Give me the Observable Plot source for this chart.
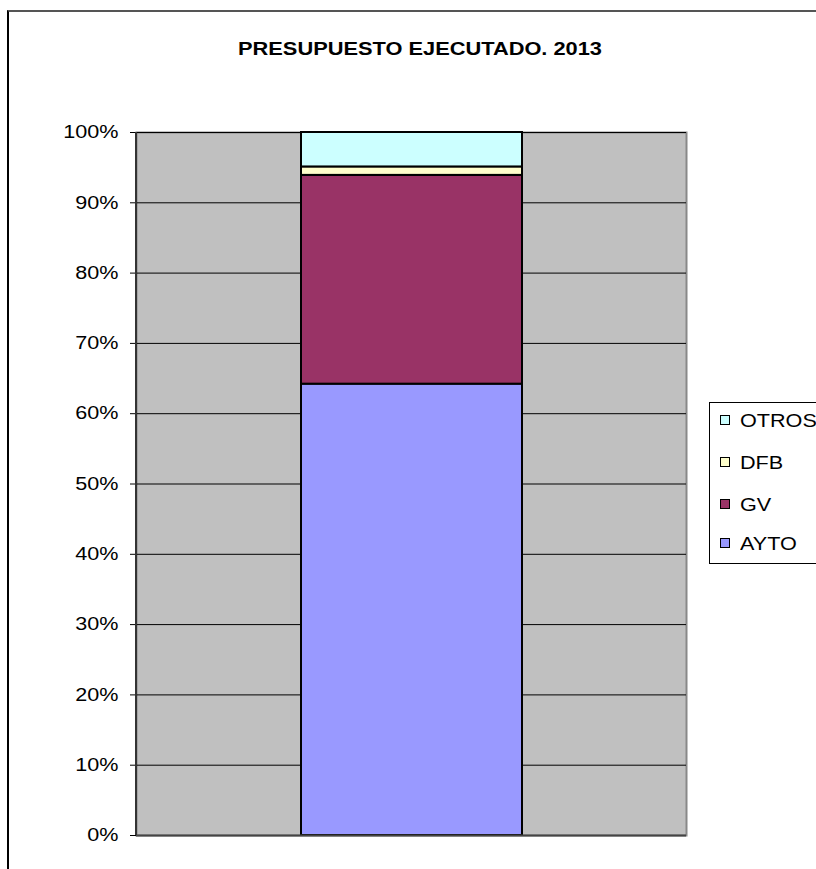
<!DOCTYPE html>
<html>
<head>
<meta charset="utf-8">
<script src="https://cdn.jsdelivr.net/npm/d3@7"></script>
<script src="https://cdn.jsdelivr.net/npm/@observablehq/plot@0.6"></script>
<style>
  html, body { margin: 0; padding: 0; background: #fff; }
  #wrap { position: relative; width: 816px; height: 869px; overflow: hidden; font-family: "Liberation Sans", Arial, sans-serif; }
  #border { position: absolute; left: 7px; top: 10px; width: 900px; height: 900px; border-left: 2px solid #000; border-top: 2px solid #555; }
  #title { position: absolute; left: 238px; top: 38px; font-weight: bold; font-size: 19px; white-space: nowrap; transform-origin: left top; }
  #legend { position: absolute; left: 709px; top: 402px; width: 120px; height: 160px; border: 1px solid #000; background: #fff; }
  .item { position: absolute; left: 10px; font-size: 18px; line-height: 18px; white-space: nowrap; }
  .sw { display: inline-block; width: 8px; height: 8px; border: 1px solid #000; margin-right: 10px; vertical-align: 2px; }
  .lt { display: inline-block; transform: scaleX(1.2); transform-origin: left center; }
  #chart { position: absolute; left: 0; top: 0; }
</style>
</head>
<body>
<div id="wrap">
  <div id="border"></div>
  <div id="chart"></div>
  <div id="title">PRESUPUESTO EJECUTADO. 2013</div>
  <div id="legend"></div>
</div>
<script>
const categories = ["AYTO", "GV", "DFB", "OTROS"];
const values = [64.2, 29.7, 1.2, 4.9];
const colors = ["#9999FF", "#993366", "#FFFFCC", "#CCFFFF"];
const year = "2013";
const yTicks = [0, 0.1, 0.2, 0.3, 0.4, 0.5, 0.6, 0.7, 0.8, 0.9, 1.0];

const total = d3.sum(values);
const data = categories.map((c, i) => ({ year, cat: c, share: values[i] / total }));

const chart = Plot.plot({
  width: 816,
  height: 869,
  marginLeft: 136,
  marginRight: 130,
  marginTop: 132,
  marginBottom: 34,
  style: { fontFamily: "Liberation Sans, Arial, sans-serif", fontSize: "18px", background: "transparent", overflow: "visible" },
  x: { type: "band", domain: [year], padding: 0.427, axis: null },
  y: { domain: [0, 1], label: null },
  color: { domain: categories, range: colors },
  marks: [
    Plot.frame({ fill: "#C0C0C0", stroke: "#888", strokeWidth: 2 }),
    Plot.ruleY(yTicks, { stroke: "#000", strokeWidth: 1 }),
    Plot.axisY({ ticks: yTicks, tickFormat: d3.format(".0%"), tickSize: 6, tickPadding: 12, fontSize: 18, label: null, stroke: "#000" }),
    Plot.barY(data, { x: "year", y: "share", fill: "cat", stroke: "#000", strokeWidth: 2, order: null }),
    Plot.ruleY([0], { stroke: "#444", strokeWidth: 2 })
  ]
});
const svg = d3.select(chart);
svg.append("line").attr("x1", 136).attr("x2", 136).attr("y1", 132).attr("y2", 835).attr("stroke", "#333").attr("stroke-width", 2);
document.getElementById("chart").appendChild(chart);

// stretch tick labels horizontally like the reference
svg.selectAll('g[aria-label="y-axis tick label"] text').each(function () {
  const len = this.getComputedTextLength();
  this.setAttribute("textLength", (len * 1.2).toFixed(1));
  this.setAttribute("lengthAdjust", "spacingAndGlyphs");
});

// stretch title to reference width
const title = document.getElementById("title");
const tw = title.getBoundingClientRect().width;
title.style.transform = `scaleX(${364 / tw})`;

const legend = document.getElementById("legend");
const tops = [9, 51, 93, 132];
[...categories].reverse().forEach((c, i) => {
  const idx = categories.indexOf(c);
  const el = document.createElement("div");
  el.className = "item";
  el.style.top = tops[i] + "px";
  el.innerHTML = `<span class="sw" style="background:${colors[idx]}"></span><span class="lt">${c}</span>`;
  legend.appendChild(el);
});
</script>
</body>
</html>
